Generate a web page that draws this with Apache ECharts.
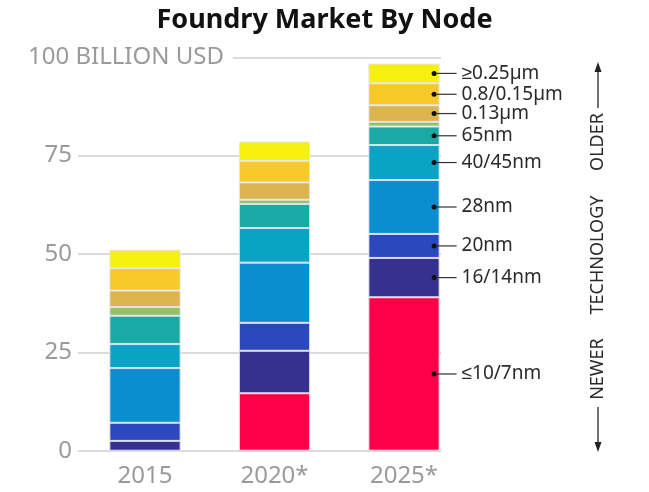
<!DOCTYPE html>
<html>
<head>
<meta charset="utf-8">
<style>
  html, body { margin: 0; padding: 0; background: #fff; }
  #chart { width: 649px; height: 492px; }
</style>
<script src="https://cdn.jsdelivr.net/npm/echarts@6/dist/echarts.min.js"></script>
</head>
<body>
<div id="chart"></div>
<script>
// Years on the x axis
const years = ['2015', '2020*', '2025*'];

// Process nodes, stacked from the bottom (newest) to the top (oldest)
const nodes = ['≤10/7nm', '16/14nm', '20nm', '28nm', '40/45nm', '65nm', '90nm', '0.13µm', '0.8/0.15µm', '≥0.25µm'];
// Nodes that get a callout beside the last bar
const calloutNodes = ['≤10/7nm', '16/14nm', '20nm', '28nm', '40/45nm', '65nm', '0.13µm', '0.8/0.15µm', '≥0.25µm'];

// Revenue per node, billion USD
const rev2015 = [0, 2.5, 4.6, 13.9, 6.1, 7.2, 2.2, 4.2, 5.7, 4.7];
const rev2020 = [14.6, 10.8, 7.1, 15.3, 8.8, 6.1, 1.1, 4.4, 5.5, 4.9];
const rev2025 = [39.0, 10.0, 6.1, 13.7, 8.9, 4.7, 1.2, 4.2, 5.6, 5.0];

// Value axis ticks
const yTicks = [0, 25, 50, 75, 100];
const yTopLabel = '100 BILLION USD';

const nodeColors = ['#ff0048', '#36308f', '#2c48bf', '#0b8ecf', '#0aa3c6', '#1aa9a4', '#93c06c', '#dcb44f', '#f8c92a', '#f5f00f'];

const FONT = '"Noto Sans", sans-serif';

const chart = echarts.init(document.getElementById('chart'), null, { renderer: 'canvas' });

const series = nodes.map(function (name, i) {
  const hasCallout = calloutNodes.indexOf(name) >= 0;
  return {
    name: name,
    type: 'bar',
    stack: 'total',
    xAxisIndex: 1,
    yAxisIndex: 1,
    barWidth: '55%',
    itemStyle: {
      color: nodeColors[i],
      borderColor: 'rgba(228,228,236,0.9)',
      borderWidth: 1
    },
    emphasis: { disabled: true },
    data: [
      rev2015[i],
      rev2020[i],
      {
        value: rev2025[i],
        label: {
          show: hasCallout,
          position: ['100%', '50%'],
          offset: [-8, 0],
          align: 'left',
          verticalAlign: 'middle',
          formatter: '{dot|}{line|}{t|' + name + '}',
          rich: {
            dot: { width: 5, height: 5, borderRadius: 2.5, backgroundColor: '#111', verticalAlign: 'middle' },
            line: { width: 20, height: 1.2, backgroundColor: '#333', verticalAlign: 'middle' },
            t: { fontFamily: FONT, fontSize: 19, color: '#2a2a2a', padding: [0, 0, 0, 5], verticalAlign: 'middle' }
          }
        }
      }
    ]
  };
});

const option = {
  animation: false,
  backgroundColor: '#fff',
  title: {
    text: 'Foundry Market By Node',
    left: 'center',
    top: 2,
    textStyle: { fontFamily: FONT, fontSize: 27, fontWeight: 'bold', color: '#111' }
  },
  grid: [
    // reference lines and value labels
    { left: 28, right: 208, top: 57.3, bottom: 41.3 },
    // stacked bars
    { left: 80.25, right: 180.25, top: 57.3, bottom: 41.3 }
  ],
  xAxis: [
    { gridIndex: 0, type: 'value', min: 0, max: 1, show: false },
    {
      gridIndex: 1,
      type: 'category',
      data: years,
      axisLine: { show: false },
      axisTick: { show: false },
      axisLabel: { margin: 13, fontFamily: FONT, fontSize: 24, color: '#9a9a9a' }
    }
  ],
  yAxis: [
    {
      gridIndex: 0,
      type: 'value',
      min: yTicks[0],
      max: yTicks[yTicks.length - 1],
      interval: yTicks[1] - yTicks[0],
      axisLine: { show: false },
      axisTick: { show: false },
      splitLine: { show: true, lineStyle: { color: '#cfcfcf', width: 1.5 } },
      axisLabel: {
        inside: true,
        margin: 0,
        formatter: function (v) {
          return v === yTicks[yTicks.length - 1] ? '{u|' + yTopLabel + '}' : '{n|' + v + '}';
        },
        rich: {
          n: { width: 44, align: 'right', padding: [0, 6, 0, 0], backgroundColor: '#fff', fontFamily: FONT, fontSize: 24, color: '#9a9a9a' },
          u: { padding: [0, 9, 0, 0], backgroundColor: '#fff', fontFamily: FONT, fontSize: 24, color: '#9a9a9a' }
        }
      }
    },
    { gridIndex: 1, type: 'value', min: 0, max: 100, show: false }
  ],
  graphic: [
    // technology direction guide on the right
    { type: 'line', shape: { x1: 598, y1: 108, x2: 598, y2: 70 }, style: { stroke: '#444', lineWidth: 1.5 } },
    { type: 'polygon', shape: { points: [[598, 62], [594.5, 72], [601.5, 72]] }, style: { fill: '#222' } },
    { type: 'text', x: 598, y: 142, rotation: Math.PI / 2,
      style: { text: 'OLDER', fontFamily: FONT, fontSize: 18, fill: '#2a2a2a', align: 'center', verticalAlign: 'middle' } },
    { type: 'text', x: 598, y: 255, rotation: Math.PI / 2,
      style: { text: 'TECHNOLOGY', fontFamily: FONT, fontSize: 18, fill: '#2a2a2a', align: 'center', verticalAlign: 'middle' } },
    { type: 'text', x: 598, y: 369, rotation: Math.PI / 2,
      style: { text: 'NEWER', fontFamily: FONT, fontSize: 18, fill: '#2a2a2a', align: 'center', verticalAlign: 'middle' } },
    { type: 'line', shape: { x1: 598, y1: 407, x2: 598, y2: 444 }, style: { stroke: '#444', lineWidth: 1.5 } },
    { type: 'polygon', shape: { points: [[598, 452], [594.5, 442], [601.5, 442]] }, style: { fill: '#222' } }
  ],
  series: series
};

chart.setOption(option);
</script>
</body>
</html>
